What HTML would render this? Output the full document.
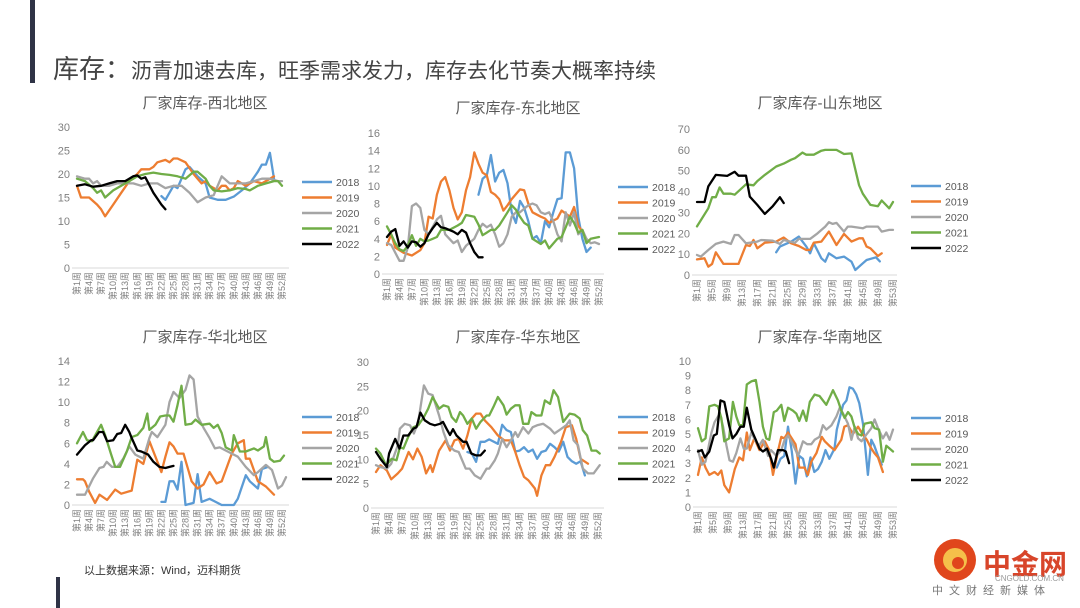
<!DOCTYPE html>
<html><head><meta charset="utf-8">
<style>
body{margin:0;background:#fff;}
#wrap{position:relative;width:1080px;height:608px;overflow:hidden;background:#fff;font-family:"Liberation Sans","Noto Sans CJK SC",sans-serif;}
svg{position:absolute;left:0;top:0;}
</style></head>
<body>
<div id="wrap">
<svg id="svg" width="1080" height="608" viewBox="0 0 1080 608">
  <rect x="30" y="0" width="5" height="83" fill="#2f3346"/>
  <rect x="56" y="577" width="4" height="31" fill="#2f3346"/>
  <text x="53" y="78" fill="#444" font-size="26" font-family="Liberation Sans, Noto Sans CJK SC, sans-serif">库存：<tspan font-size="21">沥青加速去库，旺季需求发力，库存去化节奏大概率持续</tspan></text>
  <text x="84" y="574" fill="#333" font-size="11" font-family="Liberation Sans, Noto Sans CJK SC, sans-serif">以上数据来源：Wind，迈科期货</text>
  <g>
    <circle cx="955" cy="560" r="21" fill="#e0461c"/>
    <circle cx="955" cy="560" r="12" fill="#f5c04a"/>
    <circle cx="958" cy="563" r="6" fill="#e0461c"/>
    <text x="983" y="574" fill="#d8452a" font-size="28" font-weight="bold" font-family="Liberation Sans, Noto Sans CJK SC, sans-serif">中金网</text>
    <text x="995" y="581" fill="#999" font-size="8" font-family="Liberation Sans, sans-serif">CNGOLD.COM.CN</text>
    <text x="932" y="594" fill="#777" font-size="11" letter-spacing="6" font-family="Liberation Sans, Noto Sans CJK SC, sans-serif">中文财经新媒体</text>
  </g>
</svg>
</div>
<script>
// ===== Data (week, value) =====
const legendYears = ["2018","2019","2020","2021","2022"];
const seriesColors = ["#5B9BD5","#ED7D31","#A5A5A5","#70AD47","#000000"];

// 西北
const nw2018 = [[22,15.3],[23,14.5],[25,17.5],[26,17],[28,21],[29,21.5],[31,19.5],[33,18],[34,15],[36,14.5],[38,14.5],[40,15.2],[42,16.5],[44,18],[46,20.5],[47,22],[48,22],[49,24.5],[50,19]];
const nw2019 = [[1,17.5],[2,15],[4,15],[6,13.5],[7,12.5],[8,11],[10,13.5],[12,16],[14,18.5],[16,20],[17,21],[19,21],[20,21.5],[21,22.5],[23,23],[24,22.5],[25,23.3],[26,23.3],[28,22.5],[30,20],[31,19],[32,18],[33,18.5],[34,17.5],[36,16.5],[37,17.5],[38,17.5],[39,16.5],[40,17],[41,18.5],[43,17.5],[45,18.5],[47,18],[49,19],[50,19.5]];
const nw2020 = [[1,19.5],[3,19],[4,19],[5,18],[6,18.5],[7,17.5],[9,17.5],[11,18],[13,18],[15,18],[17,17.5],[19,18],[21,18],[23,17],[25,17.5],[27,17.5],[29,16],[31,14],[33,15],[35,15.5],[37,19.5],[39,18],[41,18],[43,18],[45,18.5],[47,19],[49,19],[51,18.5],[52,18.5]];
const nw2021 = [[1,19],[3,18.5],[5,17],[6,16],[7,16.5],[8,15],[10,16.5],[12,17.5],[14,18.5],[16,19.5],[18,20],[20,20.3],[22,20],[24,19.8],[26,19.5],[28,19],[30,20.5],[31,20.5],[33,19],[34,17.5],[35,16.5],[37,16.3],[39,16.5],[41,17],[43,16.8],[44,16.5],[46,17.5],[48,18],[50,18.5],[51,18.5],[52,17.5]];
const nw2022 = [[1,17.5],[3,17.8],[5,17.3],[7,17.5],[9,18],[11,18.5],[13,18.5],[15,19.5],[16,19.7],[17,19],[18,19.3],[20,16],[22,13.5],[23,12.5]];

// 东北
const ne2018 = [[23,9],[24,10.8],[25,11.2],[26,13.5],[27,10.5],[28,11.5],[29,11.8],[30,10.3],[31,7],[32,5.8],[33,8.3],[34,7.5],[35,6],[36,4],[37,4.3],[38,3.5],[39,6],[40,5.3],[41,7],[42,8.5],[43,8.6],[44,13.8],[45,13.8],[46,12],[47,6.5],[48,4],[49,2.5],[50,3]];
const ne2019 = [[1,3.3],[2,4.5],[3,3],[5,2.4],[7,2.1],[9,2.7],[10,3.5],[11,6.5],[12,6.3],[13,9],[14,10.5],[15,11],[16,9.5],[17,7.5],[18,6.2],[19,7],[20,9.5],[21,11],[22,13.8],[23,12.5],[24,11.5],[25,11.2],[26,9.3],[27,9],[28,8.5],[29,7.2],[30,7.8],[31,8.5],[33,9.6],[34,9.5],[35,8],[36,7],[38,6.5],[39,6.3],[40,5.8],[42,6.3],[43,7.2],[45,6.5],[46,7.6],[47,5.5],[48,4.8]];
const ne2020 = [[1,3.5],[2,3.3],[4,1.5],[5,1.5],[6,3],[7,7.7],[8,8],[9,7.5],[10,5],[11,4.5],[13,6.2],[14,6.6],[15,4.5],[16,4],[17,3.5],[18,3.8],[19,2.5],[20,3.2],[22,4],[23,5],[24,5.7],[25,5.3],[26,5.6],[27,4.5],[28,3.1],[29,3.5],[30,4.5],[31,6.5],[32,7],[33,7],[35,7.8],[36,8],[37,7.8],[38,7],[39,6.8],[40,7],[41,6],[42,4.5],[43,3.7],[44,7],[45,5.5],[46,7],[47,4.5],[48,5],[49,4],[50,3.5],[51,3.6],[52,3.4]];
const ne2021 = [[1,5.4],[2,4.5],[3,3.5],[4,2.8],[5,2.6],[6,3.2],[7,4.4],[8,3.2],[9,4],[10,3.7],[11,3.8],[12,4],[13,4.2],[14,5],[16,5],[18,5.5],[19,5.8],[20,6.7],[22,6.5],[23,5.6],[24,4.4],[25,4.7],[26,5],[27,5],[28,5.5],[30,7],[31,7.8],[32,7.3],[33,6.5],[34,5.8],[35,5.5],[36,4],[38,3.4],[39,3.8],[40,2.9],[42,4],[43,4.2],[44,5.3],[45,6.5],[46,5.8],[47,4.7],[48,5],[49,3.5],[50,4],[52,4.2]];
const ne2022 = [[1,4.2],[2,4.8],[3,5.1],[4,3.2],[5,3.7],[6,3],[7,3.7],[8,3.6],[9,3.1],[10,3.5],[11,4.5],[12,5.2],[13,5.8],[14,5.3],[15,5.2],[17,4.8],[18,4.5],[19,5],[20,4.7],[21,3.5],[22,2.5],[23,1.9],[24,1.9]];

// 山东
const sd2018 = [[22,10.9],[23,13.6],[26,16],[28,18.4],[30,13.6],[31,10.4],[32,15.2],[34,8],[35,6.4],[36,10.4],[38,8],[40,8.8],[42,6.4],[43,2.4],[45,5.6],[46,7.2],[48.5,8.5],[49.5,6.5]];
const sd2019 = [[1,7.5],[3,8],[4,4],[5,5.3],[6,10.9],[8,5.3],[12,5.3],[14,14.4],[15,13.9],[16,16.8],[17,12.8],[19,15.5],[22,16],[23,17],[24,18],[26,15.2],[28,13.9],[30,12],[31,12],[32,15.5],[34,16],[36,20.8],[38,14.4],[40,19.7],[42,16],[44,17.6],[45,17.6],[46,13.6],[47,12.8],[49,9.1],[50,10.4]];
const sd2020 = [[1,9.6],[2,8.8],[4,12],[6,14.9],[8,16],[10,14.9],[11,19.2],[12,19.2],[14,15.2],[17,16],[18,16.8],[21,16.5],[23,14.9],[24,16.8],[27,15.5],[28,17.3],[31,17.3],[33,20],[35,23.2],[36,25.3],[37,24.5],[38,25],[40,20.8],[41,23.2],[42,23.2],[45,22.4],[46,23.2],[49,23.2],[50,20.8],[52,21.6],[53,21.6]];
const sd2021 = [[1,23.3],[4,32],[5,37.3],[6,37.3],[7,42],[8,39],[10,39],[11,38.5],[14,43.5],[16,43],[17,45],[19,48],[22,52],[24,53.4],[26,55.3],[27,56],[29,58.7],[30,57.7],[32,57.7],[34,59.6],[35,60],[38,60],[40,58],[42,58.3],[44,43],[45,39],[47,33.6],[49,33],[50,35.7],[52,32],[53,35]];
const sd2022 = [[1,35],[3,35],[4,42.5],[6,48],[9,47.5],[11,49.5],[12,47.6],[14,47.6],[15,37.6],[17,33.6],[19,29.3],[21,32.8],[23,37.3],[24,34.5]];

// 华北
const nc2018 = [[22,0.3],[23,0.3],[24,2.3],[25,2.3],[26,1.5],[27,4.2],[28,0],[30,0.2],[31,3],[32,0.3],[34,0.6],[35,0.4],[37,0],[40,0],[41,0.6],[43,2.9],[44,2.3],[46,1.6],[47,3.5],[48.5,3.7]];
const nc2019 = [[1,2.5],[2.5,2.5],[3,2.3],[4,1.3],[5.5,0.2],[6.6,1],[8.5,0.5],[10.5,1.5],[12,1.1],[14.6,1.4],[16,4.4],[17.5,4],[19,6.2],[22,3.2],[23,4.7],[24,6.1],[25,5.7],[26,5],[27.5,5],[29.5,2.3],[31,1.6],[32.5,2],[34,3.2],[35.7,2.1],[37,2.3],[39.5,5],[41,6],[42.5,6.3],[43,4.5],[44,4.5],[46,2.3],[48,1.8],[50,1]];
const nc2020 = [[1,1],[3,1],[5,2.6],[6.6,3.6],[7.6,3.7],[8.4,4.2],[9.7,3.7],[11,3.7],[12.5,4.5],[14,5.7],[15.5,4.9],[17.5,4.5],[19,6.5],[19.6,7.1],[21,6.6],[23,7.8],[24,10],[25,11],[26.5,10.4],[28,11.2],[29,12.6],[30,12.2],[31,8.6],[32.5,7.5],[34,6.5],[35.3,5.5],[36.5,5.6],[38,5.3],[39.5,5],[41,4.7],[43,3.7],[45,2.9],[46,3.2],[48,3.9],[49.5,3.4],[51,1.6],[52,1.9],[53,2.7]];
const nc2021 = [[1,6],[2.5,7.1],[3.5,6.3],[4.7,6.2],[6,7.1],[7,7.8],[8,6.8],[9.5,4.9],[10.5,3.7],[11.7,3.7],[13.4,5.2],[14.6,6.6],[16,6.8],[17.5,7.5],[18.5,8.9],[19,7.3],[20.5,7.8],[21.7,8.6],[23,8.7],[24,8.7],[25,8.1],[26,9.7],[27,11.6],[28,7.8],[29.5,7.9],[30.5,8.3],[32,7.8],[34,7.9],[35,7.5],[36,7.8],[37,7],[38,5.6],[39.5,5.3],[40,6.8],[41.5,5.2],[43,5.2],[45,5.5],[46,5.3],[47.5,5.7],[48,6.6],[49,4.5],[50,4.2],[51.5,4.3],[52.5,4.8]];
const nc2022 = [[1,4.9],[3,5.8],[4.5,6.3],[5,6.3],[6.5,7.1],[7.5,7.1],[8.5,6.2],[10,6.3],[11,6.9],[12,7],[13,7.8],[14,7.1],[14.5,6.6],[16,5.3],[17,5.2],[18.7,4.9],[20,4.2],[21.5,3.7],[23,3.6],[24,3.7],[25,3.8]];

// 华东
const ec2018 = [[22,11.5],[23,11.2],[24,9.5],[25,13.6],[26,13.6],[27,14.1],[29,13.2],[30,17.1],[31,16],[32,15.6],[33,11.6],[34,11.8],[35,12.5],[36,11.5],[37,12],[38,10.1],[39,11.5],[40,11.8],[41,13.2],[42,12.5],[43,11.6],[44,13.6],[45,10.5],[46,9.6],[47,9.1],[48,9.6],[49,6.7]];
const ec2019 = [[1,7.4],[2,8.8],[3.5,7.7],[4.5,5.9],[6,7.1],[7,8.1],[8.5,11.5],[9.5,10],[10.5,12.2],[11.5,10.5],[12.5,7.1],[13.5,8.8],[14,7.4],[15.5,11.8],[17,13.9],[18,11.8],[19,13.9],[20,14.2],[21,12.2],[22,14.9],[23,18.4],[24,19.4],[25,19.4],[26,18],[27.5,16.6],[29,14.9],[30.5,13.9],[32,13.9],[33,11.5],[34,8.8],[35,6.4],[36,5.7],[37.5,4],[38,2.5],[39,6.7],[40,8.8],[41,8.8],[42,10.5],[43.5,13.6],[44.6,16.6],[46,17],[47,14.2],[48,10.1],[49.7,9.1]];
const ec2020 = [[1,8.8],[2,8.4],[3.5,8.1],[4.5,9.1],[6,12.9],[6.5,16.3],[7.6,17.3],[8.8,17],[9.7,15.3],[10.7,17.7],[12,25.2],[13,23.5],[14,23.2],[15.5,19],[16.5,15.6],[17.6,12.9],[19,11.8],[20,11.5],[20.8,9.8],[21.6,8.1],[22.5,8.1],[23.7,6.7],[25,6],[26.4,8.1],[27,8.1],[28.3,9.8],[29,11.2],[30,14.2],[31,12.5],[32,13.9],[33,15.6],[33.6,14.6],[34.8,16.6],[36,15.3],[37,16.6],[38,17],[39.4,17.3],[41,16.3],[42,15.3],[43.6,16.3],[44.7,17],[45.5,18],[46.4,13.9],[47.4,12.9],[48.5,8.1],[49.7,7.1],[51,7.1],[52.4,8.8]];
const ec2021 = [[1,12.2],[2,11.2],[3.3,8.8],[4.6,10.1],[5.7,9.8],[6.5,12.5],[7.3,12.2],[8.4,14.6],[9.6,16.6],[10.7,17],[12,18.7],[13,20.4],[14,22.8],[15.5,20.4],[16.5,21.1],[17.6,20.8],[18.4,18.7],[19.4,17.7],[20.3,19.7],[21,19],[22,17.3],[23,18.4],[24,16.3],[25,17.7],[26.4,19],[27,19],[28,20.8],[29,22.8],[30.3,21.1],[31,19.2],[32,20.4],[33,21.1],[34,21.1],[34.8,17.3],[36,17.3],[36.7,19.7],[37.8,19],[39,19],[39.8,22.1],[41,21.4],[41.8,24.2],[42.8,22.8],[44,17.7],[45.5,19.4],[46.6,19.2],[47.8,18.4],[48.5,16],[49.5,14.9],[50.5,11.8],[51.6,11.8],[52.4,11.2]];
const ec2022 = [[1,11.5],[2,10.1],[3.5,8.4],[4,11.2],[5.4,14.2],[6.4,12.2],[7.3,14.9],[8.4,14.9],[9.6,16.3],[10.3,16.6],[11.2,19.6],[12.2,18],[13.4,17.3],[14.5,17],[15.7,17.3],[16.4,17.7],[17.2,16.3],[18,15],[18.7,16.2],[19.5,14.9],[21,13.6],[21.8,13.6],[22.9,11.2],[24,10.8],[25,10.8],[26,11.8]];

// 华南
const sc2018 = [[22,2.7],[23,3.3],[24,3.5],[25,5.5],[26,3.8],[27,1.6],[28,3.5],[29,3.3],[30,2.1],[31,3.4],[32,2.4],[33,2.6],[34,3.1],[35,3.9],[36,3.3],[37.4,4],[38,5.3],[39.7,7],[40.6,7.3],[41.4,8.2],[42.3,8.1],[43.2,7.7],[44,7.1],[45,5.7],[46.3,2.2],[47.2,4.6],[48,4.2],[49,3.5],[50,2.9]];
const sc2019 = [[1,2.2],[2,3.4],[3,2.7],[4,2.2],[5.4,2.4],[6.3,2.2],[7.2,2.5],[8,1.5],[9.3,1],[10.8,2.6],[12,3.4],[13,3.2],[14,5.1],[14.8,3.9],[16,4.7],[17.4,3.9],[18.8,4.5],[20,3.9],[21,2.2],[22.3,3.8],[23.2,4.8],[24,4.7],[25,5.1],[26,4.7],[27,4.3],[28,2.7],[29.4,2.7],[30.3,2.2],[31.2,3.1],[32.6,3.7],[34,4.8],[34.8,4.5],[36,4.2],[37.4,3.9],[39.2,4.6],[40,5.5],[41,5.6],[42.3,5],[43.7,5.5],[44.6,5.1],[46,4.6],[47,4.1],[48,3.7],[49,3.4],[50.3,2.4]];
const sc2020 = [[1,3.9],[2,2.9],[3,3.1],[4.6,5.1],[5.4,5.8],[6.8,6.4],[7.7,5.5],[8.6,4.2],[9.4,3.2],[10.3,3.1],[11.2,3.7],[12.3,4.7],[13.2,4],[14,4],[15.2,5.1],[16.4,4.5],[17.3,4.2],[18.3,4.6],[19.7,3.5],[20.5,3.9],[21.9,3.5],[23.2,3.9],[24.1,4.6],[25,4.9],[26.3,4.3],[27.7,3.5],[29,4.5],[30.1,4.3],[31.2,4.3],[32.1,4.6],[33.4,4.8],[34.3,5.6],[35.2,5.3],[36.6,5.6],[37.9,6.2],[38.8,6.8],[39.7,6.4],[41,5.7],[41.9,4.6],[42.8,5.5],[43.7,4.7],[44.6,4.5],[46,5],[47.2,5.4],[48.1,6],[49,5.4],[50.3,4.7],[51.2,5.1],[52.1,4.6],[53,5.3]];
const sc2021 = [[1,5.4],[2,4.5],[3,4.7],[4,6.9],[5.4,7],[6.3,6.9],[7.2,6.1],[8,4.5],[9.3,4.7],[10.3,7.2],[11.2,6.2],[12,5.6],[13,5.6],[14,8.4],[15.2,8.6],[16.4,8.7],[17.4,7.2],[18.3,5.5],[19.2,4.7],[20,4.6],[21.2,6.5],[22,6.6],[23.2,7],[24,5.9],[25,6.8],[26.3,6.6],[27.2,6.4],[28,5.9],[29,6.6],[29.9,5.9],[30.8,7.2],[32.1,7.7],[33.4,7.6],[35.2,7],[37,8],[38.3,7.3],[39.2,6.6],[40.1,6.1],[41,6.5],[41.9,6.2],[42.8,5.4],[43.7,5],[44.6,4.9],[45.4,5.7],[47.2,5.8],[48.1,5.4],[49.3,5.3],[50.3,3.1],[51.2,4.2],[53,3.8]];
const sc2022 = [[1,3.8],[2,3.9],[2.8,3.4],[4,3.8],[5.2,4.9],[6,5],[7,7.3],[8,7.2],[9.3,5.6],[10.2,4.7],[11.2,5],[12.3,5.5],[13.2,5.5],[14,6.8],[15.2,5.3],[16.4,4.6],[17.4,4],[18.3,3.8],[19.4,4],[20.5,3.3],[21.2,2.7],[22.3,3.9],[23.7,3.9],[24.4,3.8],[25.3,3]];

const chartTitles = ["厂家库存-西北地区","厂家库存-东北地区","厂家库存-山东地区","厂家库存-华北地区","厂家库存-华东地区","厂家库存-华南地区"];
const chartSeries = [
  [nw2018,nw2019,nw2020,nw2021,nw2022],
  [ne2018,ne2019,ne2020,ne2021,ne2022],
  [sd2018,sd2019,sd2020,sd2021,sd2022],
  [nc2018,nc2019,nc2020,nc2021,nc2022],
  [ec2018,ec2019,ec2020,ec2021,ec2022],
  [sc2018,sc2019,sc2020,sc2021,sc2022]
];
const chartYMax = [30,16,70,14,30,10];
const chartYStep = [5,2,10,2,5,1];
const chartLastWeek = [52,52,53,52,52,53];
const chartTickStep = [3,3,4,3,3,4];

// ===== Layout (pixels, not data) =====
const layouts = [
  {x0:77,x1:282,axEnd:289,y0:268,yTop:127,lx:302,ly:182,tx:205,ty:108,name:"northwest"},
  {x0:387,x1:599,axEnd:604,y0:274,yTop:133,lx:618,ly:187,tx:518,ty:113,name:"northeast"},
  {x0:697,x1:893,axEnd:897,y0:275,yTop:129,lx:911,ly:186,tx:820,ty:108,name:"shandong"},
  {x0:77,x1:282,axEnd:289,y0:505,yTop:361,lx:302,ly:417,tx:205,ty:342,name:"north-china"},
  {x0:376,x1:598,axEnd:604,y0:508,yTop:362,lx:618,ly:417,tx:518,ty:342,name:"east-china"},
  {x0:698,x1:893,axEnd:897,y0:507,yTop:361,lx:911,ly:418,tx:820,ty:342,name:"south-china"}
];

const NS = "http://www.w3.org/2000/svg";
const svg = document.getElementById('svg');
function mk(tag, attrs, parent){
  const e = document.createElementNS(NS, tag);
  for (const k in attrs) e.setAttribute(k, attrs[k]);
  parent.appendChild(e);
  return e;
}
const FONT = "Liberation Sans, Noto Sans CJK SC, sans-serif";

layouts.forEach((L, ci) => {
  const g = mk('g', {}, svg);
  
  
  const ymax = chartYMax[ci], lastW = chartLastWeek[ci];
  const xScale = w => L.x0 + (w - 1) * (L.x1 - L.x0) / (lastW - 1);
  const yScale = v => L.y0 - v * (L.y0 - L.yTop) / ymax;

  const t = mk('text', {x:L.tx, y:L.ty, 'text-anchor':'middle', 'font-size':15, fill:'#595959', 'font-family':FONT}, g);
  t.textContent = chartTitles[ci];
  
  

  for (let v = 0; v <= ymax + 1e-9; v += chartYStep[ci]) {
    const yt = mk('text', {x:L.x0 - 7, y:yScale(v) + 4, 'text-anchor':'end', 'font-size':11, fill:'#7f7f7f', 'font-family':FONT}, g);
    yt.textContent = String(v);
    
    
  }

  const ax = mk('line', {x1:L.x0 - 5, x2:L.axEnd, y1:L.y0, y2:L.y0, stroke:'#d9d9d9', 'stroke-width':1}, g);
  
  

  for (let w = 1; w <= lastW; w += chartTickStep[ci]) {
    const x = xScale(w), y = L.y0 + 4;
    const xt = mk('text', {x:0, y:0, transform:`translate(${x},${y}) rotate(-90)`, 'text-anchor':'end', 'dominant-baseline':'central', 'font-size':9, fill:'#7f7f7f', 'font-family':FONT}, g);
    xt.textContent = '第' + w + '周';
    
    
  }

  chartSeries[ci].forEach((pts, si) => {
    const d = pts.map((p, i) => (i ? 'L' : 'M') + xScale(p[0]).toFixed(1) + ' ' + yScale(p[1]).toFixed(1)).join(' ');
    const path = mk('path', {d:d, fill:'none', stroke:seriesColors[si], 'stroke-width':2.3, 'stroke-linejoin':'round', 'stroke-linecap':'round'}, g);
    
    
  });

  legendYears.forEach((yr, si) => {
    const ly = L.ly + si * 15.5;
    const lg = mk('g', {}, g);
    
    
    mk('line', {x1:L.lx, x2:L.lx + 30, y1:ly, y2:ly, stroke:seriesColors[si], 'stroke-width':2.5}, lg);
    const lt = mk('text', {x:L.lx + 34, y:ly + 4, 'font-size':10.5, fill:'#595959', 'font-family':FONT}, lg);
    lt.textContent = yr;
  });
});
</script>
</body></html>
